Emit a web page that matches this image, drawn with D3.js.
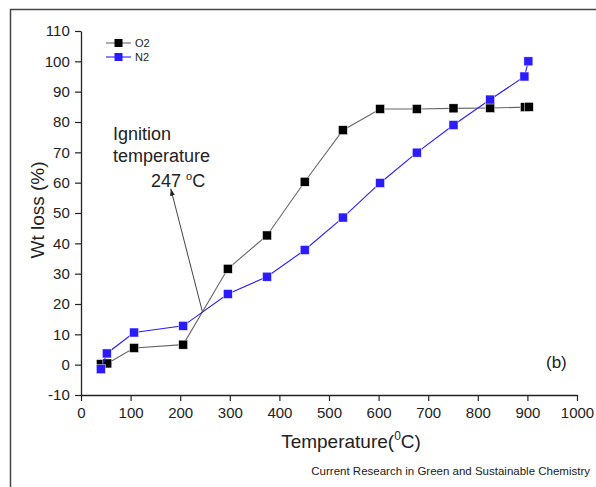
<!DOCTYPE html>
<html>
<head>
<meta charset="utf-8">
<script src="https://cdn.jsdelivr.net/npm/d3@7"></script>
<style>
  body { margin: 0; background: #fff; }
  svg { display: block; font-family: Arial, "Liberation Sans", sans-serif; }
</style>
</head>
<body>
<svg id="chart" width="596" height="487"></svg>
<script>
// data
const o2Temp = [40, 53, 107, 206, 296, 375, 451, 528, 603, 677, 751, 825, 895, 903];
const o2Loss = [0.2, 0.4, 5.5, 6.6, 31.6, 42.6, 60.3, 77.3, 84.3, 84.3, 84.5, 84.6, 84.9, 85.0];
const n2Temp = [40, 52, 107, 206, 296, 375, 451, 528, 603, 677, 751, 825, 894, 902];
const n2Loss = [-1.5, 3.7, 10.6, 12.8, 23.3, 29.0, 37.8, 48.5, 59.9, 69.9, 79.0, 87.4, 95.0, 100.0];
const xTicks = d3.range(0, 1001, 100);
const yTicks = d3.range(-10, 111, 10);

const svg = d3.select("#chart");
const margin = { left: 81, right: 19, top: 31, bottom: 92 };
const W = 596, H = 487;

const x = d3.scaleLinear().domain([0, 1000]).range([margin.left, W - margin.right]);
const y = d3.scaleLinear().domain([-10, 110]).range([H - margin.bottom, margin.top]);

// outer frame of the figure
svg.append("rect")
    .attr("x", 10.5).attr("y", 9.5)
    .attr("width", 600).attr("height", 500)
    .attr("fill", "none").attr("stroke", "#444").attr("stroke-width", 1.5);

// axes with minor ticks, plain hyphen for negatives
const fmt = d => String(d);
const axisColor = "#222";
const xAxis = svg.append("g").attr("transform", `translate(0,${y(-10)})`);
xAxis.call(d3.axisBottom(x).tickValues(d3.range(50, 1000, 100)).tickSize(3).tickFormat(""));
xAxis.call(d3.axisBottom(x).tickValues(xTicks).tickSize(6).tickSizeOuter(0).tickFormat(fmt));
const yAxis = svg.append("g").attr("transform", `translate(${x(0)},0)`);
yAxis.call(d3.axisLeft(y).tickValues(d3.range(-5, 110, 10)).tickSize(3).tickFormat(""));
yAxis.call(d3.axisLeft(y).tickValues(yTicks).tickSize(6).tickSizeOuter(0).tickFormat(fmt));

svg.selectAll(".domain").attr("stroke", axisColor).attr("stroke-width", 1.3);
svg.selectAll(".tick line").attr("stroke", axisColor).attr("stroke-width", 1.2);
svg.selectAll(".tick text").attr("font-size", 15).attr("fill", "#222")
    .attr("font-family", "Arial, 'Liberation Sans', sans-serif");
xAxis.selectAll(".tick text").attr("dy", "0.95em");
yAxis.selectAll(".tick text").attr("dx", "-0.15em");

// series
const series = [
  { name: "O2", t: o2Temp, v: o2Loss, line: "#666", marker: "#000" },
  { name: "N2", t: n2Temp, v: n2Loss, line: "#2b1cff", marker: "#2b1cff" }
];
const line = d3.line().x(d => x(d[0])).y(d => y(d[1]));
series.forEach(s => {
  const pts = s.t.map((t, i) => [t, s.v[i]]);
  svg.append("path").datum(pts).attr("d", line)
      .attr("fill", "none").attr("stroke", s.line).attr("stroke-width", 1.1);
  svg.append("g").selectAll("rect").data(pts).join("rect")
      .attr("x", d => x(d[0]) - 4.5).attr("y", d => y(d[1]) - 4.5)
      .attr("width", 9).attr("height", 9)
      .attr("fill", s.marker).attr("stroke", "#fff").attr("stroke-width", 0.5);
});

// legend
series.forEach((s, i) => {
  const ly = 43 + i * 14;
  const g = svg.append("g");
  g.append("line").attr("x1", 106).attr("x2", 131).attr("y1", ly).attr("y2", ly)
      .attr("stroke", s.line).attr("stroke-width", 1.1);
  g.append("rect").attr("x", 114.5).attr("y", ly - 4).attr("width", 8).attr("height", 8)
      .attr("fill", s.marker);
  g.append("text").attr("x", 135).attr("y", ly + 4).attr("font-size", 11)
      .attr("fill", "#222").text(s.name);
});

// ignition annotation
const arrowFrom = [245, 17.3], arrowTo = [181, 58];
svg.append("defs").append("marker")
    .attr("id", "head").attr("viewBox", "0 0 10 10").attr("refX", 10).attr("refY", 5)
    .attr("markerWidth", 7).attr("markerHeight", 7).attr("orient", "auto")
  .append("path").attr("d", "M0,1.5 L10,5 L0,8.5 Z").attr("fill", "#222");
svg.append("line")
    .attr("x1", x(arrowFrom[0])).attr("y1", y(arrowFrom[1]))
    .attr("x2", x(arrowTo[0])).attr("y2", y(arrowTo[1]))
    .attr("stroke", "#444").attr("stroke-width", 1).attr("marker-end", "url(#head)");
const ann = svg.append("text").attr("font-size", 18).attr("fill", "#222");
ann.append("tspan").attr("x", 113).attr("y", 140).text("Ignition");
ann.append("tspan").attr("x", 113).attr("y", 162).text("temperature");
const t3 = svg.append("text").attr("x", 151).attr("y", 187).attr("font-size", 18).attr("fill", "#222");
t3.append("tspan").text("247 ");
t3.append("tspan").attr("font-size", 11).attr("dy", -7).text("o");
t3.append("tspan").attr("dy", 7).text("C");

// panel label
svg.append("text").attr("x", 546).attr("y", 368).attr("font-size", 17).attr("fill", "#222").text("(b)");

// axis titles
svg.append("text")
    .attr("transform", `translate(44,${(y(110) + y(-10)) / 2 - 3}) rotate(-90)`)
    .attr("text-anchor", "middle").attr("font-size", 19).attr("fill", "#222")
    .text("Wt loss (%)");
const xt = svg.append("text").attr("x", x(500) + 22).attr("y", 448)
    .attr("text-anchor", "middle").attr("font-size", 19).attr("fill", "#222");
xt.append("tspan").text("Temperature(");
xt.append("tspan").attr("font-size", 12).attr("dy", -8).text("0");
xt.append("tspan").attr("dy", 8).text("C)");

// source note
svg.append("text").attr("x", 590).attr("y", 475).attr("text-anchor", "end")
    .attr("font-size", 11.5).attr("fill", "#222")
    .text("Current Research in Green and Sustainable Chemistry");
</script>
</body>
</html>
